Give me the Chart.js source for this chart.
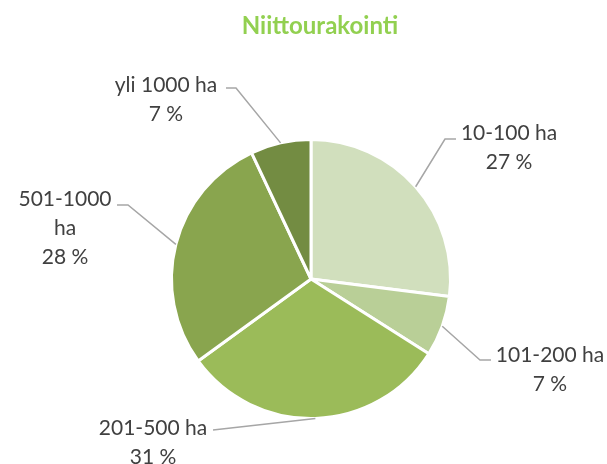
<!DOCTYPE html>
<html>
<head>
<meta charset="utf-8">
<script src="https://cdn.jsdelivr.net/npm/chart.js@4/dist/chart.umd.min.js"></script>
<style>
  html, body { margin: 0; padding: 0; background: #ffffff; }
  #wrap { width: 607px; height: 464px; position: relative; }
</style>
</head>
<body>
<div id="wrap"><canvas id="c" width="607" height="464"></canvas></div>
<script>
// ---- Data ----
const chartTitle = "Niittourakointi";
const categories = ["10-100 ha", "101-200 ha", "201-500 ha", "501-1000 ha", "yli 1000 ha"];
const values = [27, 7, 31, 28, 7];
// label text lines (as wrapped in the reference)
const labelLines = [
  ["10-100 ha", "27 %"],
  ["101-200 ha", "7 %"],
  ["201-500 ha", "31 %"],
  ["501-1000", "ha", "28 %"],
  ["yli 1000 ha", "7 %"]
];

// ---- Style ----
const sliceColors = ["#d1dfbd", "#b9cf97", "#9bbb59", "#89a54e", "#738c42"];
// per-label layout, offsets relative to pie centre (px)
const labelLayout = [
  { elbow: [134, -140], end: [145, -140], text: [198, -146] },
  { elbow: [169, 81],   end: [180, 81],   text: [239, 76] },
  { elbow: [-98, 151],  end: [-98, 151],  text: [-158, 149] },
  { elbow: [-183, -74], end: [-194, -74], text: [-246, -80] },
  { elbow: [-75, -191], end: [-85, -191], text: [-145, -194] }
];

const labelPlugin = {
  id: 'pieLabels',
  afterDraw(chart) {
    const ctx = chart.ctx;
    const meta = chart.getDatasetMeta(0);
    ctx.save();
    // title
    ctx.font = "bold 24px Lato";
    ctx.fillStyle = "#92d050";
    ctx.textAlign = "center";
    ctx.textBaseline = "middle";
    ctx.fillText(chartTitle, 320, 26);

    meta.data.forEach((arc, i) => {
      const p = arc.getProps(['x', 'y', 'startAngle', 'endAngle', 'outerRadius'], true);
      const mid = (p.startAngle + p.endAngle) / 2;
      const sx = p.x + Math.cos(mid) * p.outerRadius;
      const sy = p.y + Math.sin(mid) * p.outerRadius;
      const L = labelLayout[i];
      ctx.strokeStyle = "#a6a6a6";
      ctx.lineWidth = 1.5;
      ctx.beginPath();
      ctx.moveTo(sx, sy);
      ctx.lineTo(p.x + L.elbow[0], p.y + L.elbow[1]);
      ctx.lineTo(p.x + L.end[0], p.y + L.end[1]);
      ctx.stroke();

      ctx.font = "21px Lato";
      ctx.fillStyle = "#404040";
      ctx.textAlign = "center";
      ctx.textBaseline = "middle";
      labelLines[i].forEach((t, k) => {
        ctx.fillText(t, p.x + L.text[0], p.y + L.text[1] + k * 29);
      });
    });
    ctx.restore();
  }
};

new Chart(document.getElementById('c'), {
  type: 'pie',
  data: {
    labels: categories,
    datasets: [{
      data: values,
      backgroundColor: sliceColors,
      borderColor: "#ffffff",
      borderWidth: 3
    }]
  },
  options: {
    responsive: false,
    animation: false,
    layout: { padding: { left: 170, right: 155, top: 138, bottom: 44 } },
    plugins: {
      legend: { display: false },
      tooltip: { enabled: false },
      title: { display: false }
    }
  },
  plugins: [labelPlugin]
});
</script>
</body>
</html>
